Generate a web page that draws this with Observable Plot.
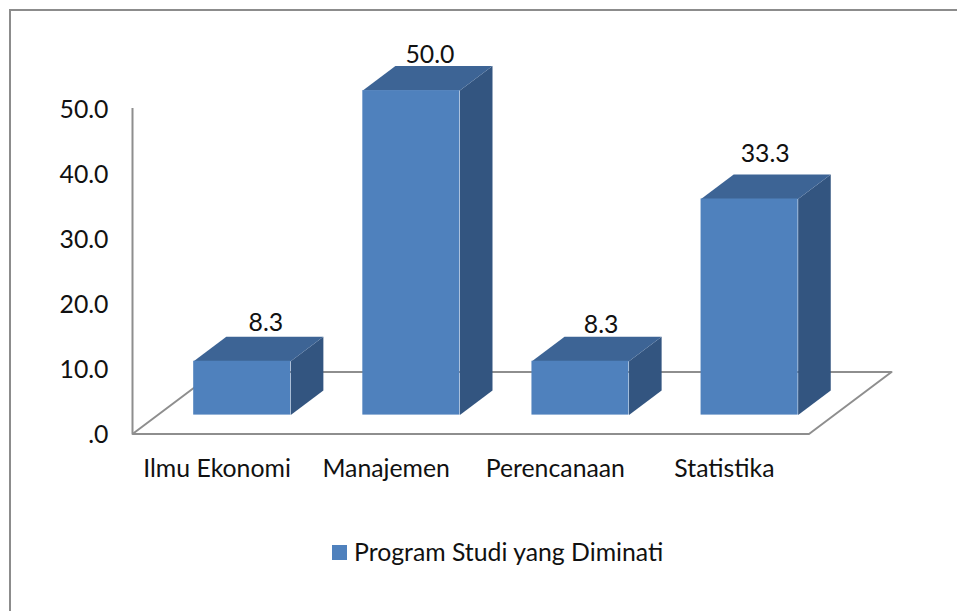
<!DOCTYPE html>
<html>
<head>
<meta charset="utf-8">
<script src="https://cdn.jsdelivr.net/npm/d3@7"></script>
<script src="https://cdn.jsdelivr.net/npm/@observablehq/plot@0.6"></script>
<style>
  html, body { margin: 0; padding: 0; background: #fff; overflow: hidden; }
  body { width: 957px; height: 611px; position: relative; font-family: Lato, sans-serif; }
  #frame { position: absolute; left: 9px; top: 9px; width: 960px; height: 620px; border: 2px solid #8c8c8c; box-sizing: border-box; }
  #chart { position: absolute; left: 0; top: 0; }
  #chart svg { display: block; }
  #legend { position: absolute; left: 332px; top: 530px; height: 45px; display: flex; align-items: center; font-size: 24.8px; color: #111; white-space: nowrap; }
  #legend i { display: block; width: 15px; height: 15px; background: #4f81bd; margin-right: 7px; }
  #legend span { position: relative; top: -1px; }
</style>
</head>
<body>
<div id="frame"></div>
<div id="chart"></div>
<div id="legend"><i></i><span>Program Studi yang Diminati</span></div>
<script>
const categories = ["Ilmu Ekonomi", "Manajemen", "Perencanaan", "Statistika"];
const values = [8.3, 50.0, 8.3, 33.3];
const valueLabels = ["8.3", "50.0", "8.3", "33.3"];
const yTicks = [0, 10, 20, 30, 40, 50];

// Oblique projection of a (category position, value, depth) point into data space
const depthX = 0.488, depthY = 9.55;
const barHalf = 0.287, depthFront = 0.305, depthBack = 0.7, axisTop = 50.15;
const P = (x, v, d) => ({x: x + d * depthX, y: v + d * depthY});

const COLORS = {front: "#4f81bd", top: "#3d6495", side: "#335580", axis: "#8e8e8e"};
const labelNudge = [[-10, -14], [-15, -11], [-13, -12], [-18, -20]];

const face = (i, v, kind) => {
  const l = i + 0.5 - barHalf, r = i + 0.5 + barHalf;
  const pts = kind === "top"
    ? [P(l, v, depthFront), P(r, v, depthFront), P(r, v, depthBack), P(l, v, depthBack)]
    : [P(r, 0, depthFront), P(r, v, depthFront), P(r, v, depthBack), P(r, 0, depthBack)];
  return pts.map(p => ({...p, key: `${kind}${i}`}));
};

const fronts = values.map((v, i) => {
  const a = P(i + 0.5 - barHalf, 0, depthFront), b = P(i + 0.5 + barHalf, v, depthFront);
  return {x1: a.x, x2: b.x, y1: a.y, y2: b.y};
});
const floor = [P(0, 0, 1), P(0, 0, 0), P(4, 0, 0), P(4, 0, 1), P(0, 0, 1)];

const barMarks = values.flatMap((v, i) => [
  Plot.line(face(i, v, "side"), {x: "x", y: "y", fill: COLORS.side, stroke: "none"}),
  Plot.line(face(i, v, "top"), {x: "x", y: "y", fill: COLORS.top, stroke: "none"}),
  Plot.rect([fronts[i]], {x1: "x1", x2: "x2", y1: "y1", y2: "y2", fill: COLORS.front}),
  Plot.text([P(i + 0.5, v, depthBack)], {
    x: "x", y: "y", text: () => valueLabels[i], fontSize: 24.8, fill: "#111",
    dx: labelNudge[i][0] + 1, dy: labelNudge[i][1]
  })
]);

const chart = Plot.plot({
  width: 957, height: 530,
  marginLeft: 132, marginRight: 148.5, marginTop: 109, marginBottom: 96.5,
  style: {fontFamily: "Lato, sans-serif", background: "transparent", overflow: "visible"},
  x: {domain: [0, 4]},
  y: {domain: [0, 50]},
  marks: [
    Plot.line(floor, {x: "x", y: "y", stroke: COLORS.axis, strokeWidth: 2}),
    Plot.ruleX([0], {y1: 0, y2: axisTop, stroke: COLORS.axis, strokeWidth: 2}),
    Plot.axisY({ticks: yTicks, tickSize: 0, tickPadding: 24, label: null, fontSize: 24.8, color: "#111", dy: 1,
      tickFormat: d => d === 0 ? ".0" : d3.format(".1f")(d)}),
    Plot.axisX({ticks: categories.map((c, i) => i + 0.5), tickSize: 0, tickPadding: 25, label: null, fontSize: 24.8, color: "#111",
      tickFormat: d => categories[Math.floor(d)]}),
    ...barMarks
  ]
});
document.getElementById("chart").append(chart);
</script>
</body>
</html>
